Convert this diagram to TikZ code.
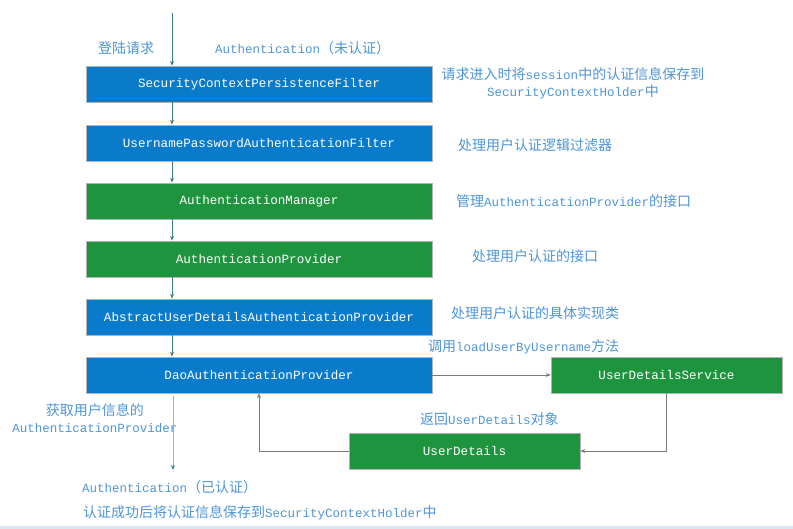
\documentclass[tikz,border=0pt]{standalone}
\usepackage{fontspec}
\setmainfont{Liberation Mono}
\newfontfamily\cjk{Noto Sans CJK SC}
\usetikzlibrary{arrows.meta}
\newcommand{\zh}[1]{{\cjk\fontsize{14}{17}\selectfont #1}}
\definecolor{boxblue}{HTML}{0A7BCB}
\definecolor{boxgreen}{HTML}{1F943F}
\definecolor{notecol}{HTML}{4E95D8}
\definecolor{flowcol}{HTML}{3D7F8C}
\definecolor{paleflow}{HTML}{8DB6CC}
\definecolor{grayline}{HTML}{7A7A7A}
\definecolor{band}{HTML}{DDE6EF}
\begin{document}
\begin{tikzpicture}[x=1pt,y=-1pt,
  box/.style={draw=gray!60, line width=0.6pt, minimum width=346pt, minimum height=36pt,
    text=white, font=\fontsize{12.6}{14}\selectfont, inner sep=0pt},
  uibox/.style={box, minimum width=231pt},
  bluebox/.style={box, fill=boxblue},
  greenbox/.style={box, fill=boxgreen},
  sidegreen/.style={uibox, fill=boxgreen},
  notetext/.style={text=notecol, font=\fontsize{12.5}{17}\selectfont, inner sep=0pt},
  flowarrow/.style={draw=flowcol, line width=0.8pt, -{Stealth[length=5pt,width=4pt]}},
  palearrow/.style={draw=paleflow, line width=1pt, -{Stealth[length=5pt,width=4pt,color=flowcol]}},
  grayarrow/.style={draw=grayline, line width=0.7pt, -{Stealth[length=5pt,width=4pt]}}
]
\useasboundingbox (0,0) rectangle (793,529);
\fill[white] (0,0) rectangle (793,529);
\fill[band] (0,526) rectangle (793,529);

\node[bluebox]  (b1) at (259,84)  {SecurityContextPersistenceFilter};
\node[bluebox]  (b2) at (259,143) {UsernamePasswordAuthenticationFilter};
\node[greenbox] (b3) at (259,201) {AuthenticationManager};
\node[greenbox] (b4) at (259,259) {AuthenticationProvider};
\node[bluebox]  (b5) at (259,317) {AbstractUserDetailsAuthenticationProvider};
\node[bluebox]  (b6) at (259,375) {DaoAuthenticationProvider};
\node[sidegreen] (uds) at (666.5,375) {UserDetailsService};
\node[sidegreen] (ud)  at (464.5,451) {UserDetails};

\coordinate (top) at (172,13);
\coordinate (done) at (173,470);

\draw[flowarrow] (top) -- (top |- b1.north);
\draw[flowarrow] ([xshift=-87pt]b1.south) -- ([xshift=-87pt]b2.north);
\draw[flowarrow] ([xshift=-87pt]b2.south) -- ([xshift=-87pt]b3.north);
\draw[flowarrow] ([xshift=-87pt]b3.south) -- ([xshift=-87pt]b4.north);
\draw[flowarrow] ([xshift=-87pt]b4.south) -- ([xshift=-87pt]b5.north);
\draw[flowarrow] ([xshift=-87pt]b5.south) -- ([xshift=-87pt]b6.north);
\draw[palearrow] ([xshift=-86pt,yshift=-3pt]b6.south) -- (done);

\draw[grayarrow] (b6.east) -- (uds.west);
\draw[grayarrow] (uds.south) |- (ud.east);
\draw[grayarrow] (ud.west) -| (b6.south);

\node[notetext, anchor=west] (n1) at (98,48) {\zh{登陆请求}};
\node[notetext, anchor=west] (n2) at (215,48) {Authentication\zh{（未认证）}};
\node[notetext, align=center] (n3) at (573,83) {\zh{请求进入时将}session\zh{中的认证信息保存到}\\SecurityContextHolder\zh{中}};
\node[notetext, anchor=west] (n4) at (458,145) {\zh{处理用户认证逻辑过滤器}};
\node[notetext, anchor=west] (n5) at (456,201) {\zh{管理}AuthenticationProvider\zh{的接口}};
\node[notetext, anchor=west] (n6) at (472,256) {\zh{处理用户认证的接口}};
\node[notetext, anchor=west] (n7) at (451,313) {\zh{处理用户认证的具体实现类}};
\node[notetext, anchor=west] (n8) at (428,347) {\zh{调用}loadUserByUsername\zh{方法}};
\node[notetext, anchor=west] (n9) at (420,419) {\zh{返回}UserDetails\zh{对象}};
\node[notetext, align=center] (n10) at (95,418) {\zh{获取用户信息的}\\AuthenticationProvider};
\node[notetext, anchor=west] (n11) at (82,487) {Authentication\zh{（已认证）}};
\node[notetext, anchor=west] (n12) at (83,513) {\zh{认证成功后将认证信息保存到}SecurityContextHolder\zh{中}};
\end{tikzpicture}
\end{document}
